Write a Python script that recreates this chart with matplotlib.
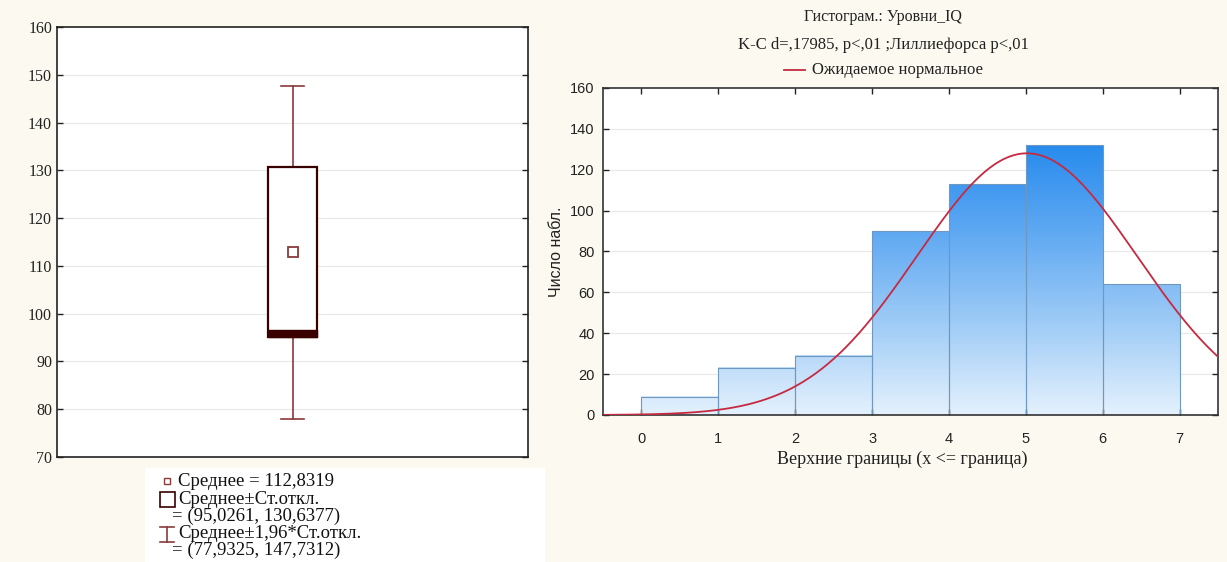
#%% Imports

import numpy as np
import matplotlib
matplotlib.use('Agg')
import matplotlib.pyplot as plt
import matplotlib.patches as patches
from matplotlib.colors import LinearSegmentedColormap, Normalize


#%% Data

# Box plot: IQ levels
iq_mean = 112.8319
iq_sd_range = (95.0261, 130.6377)
iq_ci_range = (77.9325, 147.7312)
box_yticks = [70, 80, 90, 100, 110, 120, 130, 140, 150, 160]

# Histogram: upper bounds and counts
bin_edges = [0, 1, 2, 3, 4, 5, 6, 7]
counts = [9, 23, 29, 90, 113, 132, 64]
hist_xticks = [0, 1, 2, 3, 4, 5, 6, 7]
hist_yticks = [0, 20, 40, 60, 80, 100, 120, 140, 160]
ks_text = 'K-C d=,17985, p<,01 ;Лиллиефорса p<,01'

SERIF = ['Liberation Serif', 'DejaVu Serif']
SANS = ['Liberation Sans', 'DejaVu Sans']
BG = '#fcfaf0'
DARK = '#3a0000'
WHISK = '#8b3a3a'
CURVE = '#c62a40'


def ru(v):
    return '{:.4f}'.format(v).replace('.', ',')


fig = plt.figure(figsize=(12.27, 5.62), dpi=100, facecolor=BG)
W, H = 1227.0, 562.0

def fx(px):
    return px / W

def fy(py):
    return 1 - py / H


#%% Left: box plot

ax1 = fig.add_axes([fx(57), fy(457), fx(528) - fx(57), fy(27) - fy(457)])
ax1.set_facecolor('white')
ax1.set_xlim(-0.5, 0.5)
ax1.set_ylim(box_yticks[0], box_yticks[-1])
ax1.set_yticks(box_yticks)
ax1.set_xticks([])
for y in box_yticks[1:-1]:
    ax1.axhline(y, color='#e8e8e8', lw=0.8, zorder=0)
ax1.tick_params(axis='y', direction='in', right=True, length=4, width=1, colors='#222222',
                labelsize=11.5)
for lbl in ax1.get_yticklabels():
    lbl.set_family(SERIF)
for s in ax1.spines.values():
    s.set_color('#222222')
    s.set_linewidth(1.2)

hw = 0.051
cap = 0.025
lo, hi = iq_sd_range
ax1.plot([0, 0], [iq_ci_range[0], lo], color=WHISK, lw=1.2, zorder=2)
ax1.plot([0, 0], [hi, iq_ci_range[1]], color=WHISK, lw=1.2, zorder=2)
ax1.plot([-cap, cap], [iq_ci_range[0]] * 2, color=WHISK, lw=1.2, zorder=2)
ax1.plot([-cap, cap], [iq_ci_range[1]] * 2, color=WHISK, lw=1.2, zorder=2)
ax1.add_patch(patches.Rectangle((-hw, lo), 2 * hw, hi - lo, facecolor='white',
                                edgecolor=DARK, lw=1.6, zorder=3))
ax1.add_patch(patches.Rectangle((-hw, lo), 2 * hw, 1.6, facecolor=DARK,
                                edgecolor=DARK, lw=1.0, zorder=4))
ax1.plot([0], [iq_mean], marker='s', ms=7, mfc='white', mec=WHISK, mew=1.3, zorder=5)

# legend under the box plot
fig.patches.append(patches.Rectangle((fx(145), fy(562)), fx(545) - fx(145), fy(468) - fy(562),
                                     transform=fig.transFigure, facecolor='white',
                                     edgecolor='none', zorder=0))
tx = fx(178)
leg_kw = dict(family=SERIF, fontsize=13.5, color='#111111', va='center', ha='left')
fig.text(tx, fy(481), 'Среднее = ' + ru(iq_mean), **leg_kw)
fig.text(tx, fy(499), 'Среднее±Ст.откл.', **leg_kw)
fig.text(tx - fx(6), fy(516), '= ({}, {})'.format(ru(lo), ru(hi)), **leg_kw)
fig.text(tx, fy(534), 'Среднее±1,96*Ст.откл.', **leg_kw)
fig.text(tx - fx(6), fy(550), '= ({}, {})'.format(ru(iq_ci_range[0]), ru(iq_ci_range[1])),
         **leg_kw)
fig.lines.append(plt.Line2D([fx(167)], [fy(481)], transform=fig.transFigure, marker='s', ms=5,
                            mfc='white', mec=WHISK, mew=1.0, ls='none'))
fig.patches.append(patches.Rectangle((fx(160), fy(507)), fx(15), fy(492) - fy(507),
                                     transform=fig.transFigure, facecolor='white',
                                     edgecolor=DARK, lw=1.2))
fig.lines.append(plt.Line2D([fx(167), fx(167)], [fy(527), fy(542)], transform=fig.transFigure,
                            color=WHISK, lw=1.2))
fig.lines.append(plt.Line2D([fx(160), fx(174)], [fy(527)] * 2, transform=fig.transFigure,
                            color=WHISK, lw=1.2))
fig.lines.append(plt.Line2D([fx(160), fx(174)], [fy(542)] * 2, transform=fig.transFigure,
                            color=WHISK, lw=1.2))


#%% Right: histogram with expected normal

ax2 = fig.add_axes([fx(603), fy(415), fx(1218) - fx(603), fy(88) - fy(415)])
ax2.set_facecolor('white')
ax2.set_xticks(hist_xticks)
ax2.set_yticks(hist_yticks)
for y in hist_yticks[1:-1]:
    ax2.axhline(y, color='#e8e8e8', lw=0.8, zorder=0)

cmap = LinearSegmentedColormap.from_list('bars', ['#e4f1fd', '#9ccaf6', '#5aa6f2', '#1e86ec'])
norm = Normalize(0, 140)
edges = np.array(bin_edges, dtype=float)
for x0, x1, h in zip(edges[:-1], edges[1:], counts):
    grad = np.linspace(0, h, 200).reshape(-1, 1)
    ax2.imshow(grad, extent=(x0, x1, 0, h), origin='lower', aspect='auto',
               cmap=cmap, norm=norm, zorder=1)
ax2.bar(edges[:-1], counts, width=np.diff(edges), align='edge', fill=False,
        edgecolor='#6f98c0', lw=0.8, zorder=2)

# fitted normal from the binned data (values are the upper bounds)
vals = edges[1:]
cnt = np.array(counts, dtype=float)
n = cnt.sum()
mu = (vals * cnt).sum() / n
sd = np.sqrt(((vals - mu) ** 2 * cnt).sum() / n)
xs = np.linspace(-0.5, 7.5, 400)
ys = n * np.exp(-0.5 * ((xs - mu) / sd) ** 2) / (sd * np.sqrt(2 * np.pi))
ax2.plot(xs, ys, color=CURVE, lw=1.3, zorder=3)
ax2.set_xlim(-0.5, 7.5)
ax2.set_ylim(hist_yticks[0], hist_yticks[-1])

ax2.tick_params(direction='in', top=True, right=True, length=4, width=1, colors='#222222',
                labelsize=10.5)
ax2.tick_params(axis='x', pad=12)
ax2.tick_params(axis='y', pad=6)
for lbl in ax2.get_xticklabels() + ax2.get_yticklabels():
    lbl.set_family(SANS)
for s in ax2.spines.values():
    s.set_color('#333333')
    s.set_linewidth(1.2)
ax2.set_ylabel('Число набл.', family=SANS, fontsize=11.5, color='#222222', labelpad=4)
ax2.set_xlabel('Верхние границы (x <= граница)', family=SERIF, fontsize=13,
               color='#222222', labelpad=8)
ax2.xaxis.set_label_coords(0.486, -0.11)

cx = fx(883)
fig.text(cx, fy(17), 'Гистограм.: Уровни_IQ', family=SERIF, fontsize=11.5, color='#222222',
         ha='center', va='center')
fig.text(cx, fy(45), ks_text, family=SERIF, fontsize=12, color='#222222',
         ha='center', va='center')
fig.text(fx(812), fy(70), 'Ожидаемое нормальное', family=SERIF, fontsize=12, color='#222222',
         ha='left', va='center')
fig.lines.append(plt.Line2D([fx(784), fx(805)], [fy(70)] * 2, transform=fig.transFigure,
                            color=CURVE, lw=1.3))

plt.savefig('out.png', dpi=100, facecolor=BG)
